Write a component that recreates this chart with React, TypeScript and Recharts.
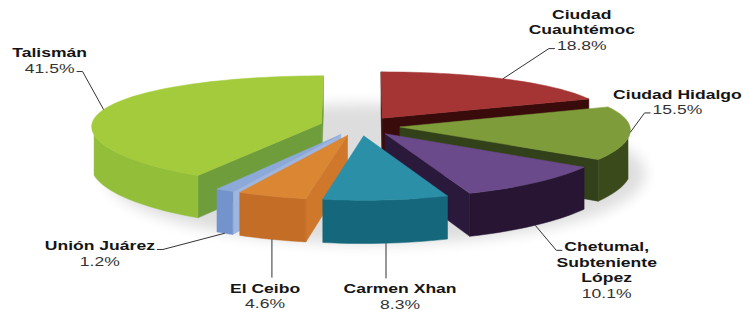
import React from 'react';
import { PieChart, Pie } from 'recharts';

// data, clockwise from 12 o'clock
const towns = [
  'Ciudad\nCuauhtémoc',
  'Ciudad Hidalgo',
  'Chetumal,\nSubteniente\nLópez',
  'Carmen Xhan',
  'El Ceibo',
  'Unión Juárez',
  'Talismán',
];
const shares = [18.8, 15.5, 10.1, 8.3, 4.6, 1.2, 41.5];

// colours per slice: top face, outer wall, cut faces
const topColors = ['#a53434', '#7f9c3b', '#6b4a8b', '#2a8fa7', '#db8633', '#8ca9d9', '#a3cb3b'];
const wallColors = ['#4a1010', '#3b4a1b', '#271533', '#15677b', '#c46d27', '#7393cc', '#92be3a'];
const cutColors = ['#3a0b0b', '#33411a', '#2b193b', '#1c7488', '#cf782c', '#9db5df', '#6f9d3c'];

// label placement tweaks (pixels), same order as towns
const labelNudge = [
  [38, 34],
  [-11, -44],
  [42, -8],
  [10, -2],
  [7, 5],
  [-103, -25],
  [8, -24],
];

const W = 750;
const H = 310;
const CX = 360;
const CY = 126;
const RADIUS = 230;
const EXPLODE = 40;
const DEPTH = 40;
const VIEWER = 6; // viewer distance in radii, for face visibility
const FONT = '"Liberation Sans", Arial, sans-serif';
const FONT_SIZE = 13;
const STRETCH = 1.35;
const LINE = 15.4;
const LABEL_RX = 330;
const LABEL_RY = 170;

const chartData = towns.map((name, i) => ({ name, value: shares[i] }));
// left half is swept the other way so slices stack back-to-front
const chartDataReversed = [...chartData].reverse();

type P2 = [number, number];
const rad = Math.PI / 180;

function project(cx: number, cy: number, R: number, u: number, v: number, h: number): P2 {
  const t = v / R;
  return [cx + u * (1 + 0.05 * t), cy + v * (0.24 + 0.03 * t) + h * DEPTH * (1 + 0.07 * t)];
}

const toPath = (pts: P2[]) =>
  'M' + pts.map((p) => `${p[0].toFixed(2)},${p[1].toFixed(2)}`).join('L') + 'Z';

let ctx: CanvasRenderingContext2D | null = null;
function textWidth(s: string, bold: boolean) {
  if (!ctx) ctx = document.createElement('canvas').getContext('2d');
  if (!ctx) return s.length * 8;
  ctx.font = `${bold ? 'bold ' : ''}${FONT_SIZE}px ${FONT}`;
  return ctx.measureText(s).width * STRETCH;
}

const makeSlice = (leftHalf: boolean) => (props: any) => {
  const { cx, cy, outerRadius: R, startAngle: a0, endAngle: a1, midAngle: am, value, name } = props;
  const index = towns.indexOf(name);
  const isLeft = Math.cos(am * rad) < 0;
  if (isLeft !== leftHalf) return <g key={`skip-${index}`} />;

  // ground plane points: apex, then rim from start to end
  const ox = EXPLODE * Math.cos(am * rad);
  const oy = -EXPLODE * Math.sin(am * rad);
  const ground: P2[] = [[ox, oy]];
  const steps = Math.max(2, Math.ceil(Math.abs(a0 - a1) / 2));
  for (let k = 0; k <= steps; k++) {
    const a = (a0 + ((a1 - a0) * k) / steps) * rad;
    ground.push([ox + R * Math.cos(a), oy - R * Math.sin(a)]);
  }
  const n = ground.length;
  const top = ground.map(([u, v]) => project(cx, cy, R, u, v, 0));
  const bot = ground.map(([u, v]) => project(cx, cy, R, u, v, 1));
  const gc = ground.reduce((s, p) => [s[0] + p[0] / n, s[1] + p[1] / n], [0, 0]);

  const visible = (i: number) => {
    const p = ground[i];
    const q = ground[(i + 1) % n];
    const mx = (p[0] + q[0]) / 2;
    const my = (p[1] + q[1]) / 2;
    let nx = q[1] - p[1];
    let ny = -(q[0] - p[0]);
    if (nx * (mx - gc[0]) + ny * (my - gc[1]) < 0) {
      nx = -nx;
      ny = -ny;
    }
    return nx * -mx + ny * (VIEWER * R - my) > 0;
  };
  const quad = (i: number) => {
    const j = (i + 1) % n;
    return toPath([top[i], top[j], bot[j], bot[i]]);
  };

  const faces: React.ReactNode[] = [];
  // cut faces
  [0, n - 1].forEach((i) => {
    if (visible(i))
      faces.push(<path key={`c${i}`} d={quad(i)} fill={cutColors[index]} stroke={cutColors[index]} strokeWidth={0.5} />);
  });
  // outer wall, in runs of visible segments
  let runStart = -1;
  for (let i = 1; i <= steps + 1; i++) {
    const vis = i <= steps && visible(i);
    if (vis && runStart < 0) runStart = i;
    if (!vis && runStart >= 0) {
      const pts = [...top.slice(runStart, i + 1), ...bot.slice(runStart, i + 1).reverse()];
      faces.push(<path key={`w${runStart}`} d={toPath(pts)} fill={wallColors[index]} stroke={wallColors[index]} strokeWidth={0.5} />);
      runStart = -1;
    }
  }

  // label
  const lines = towns[index].split('\n');
  const nameCount = lines.length;
  lines.push(`${Number(value).toFixed(1)}%`);
  const px = cx + LABEL_RX * Math.cos(am * rad) + labelNudge[index][0];
  const py = cy - LABEL_RY * Math.sin(am * rad) + labelNudge[index][1];
  const widths = lines.map((ln, k) => textWidth(ln, k < nameCount));

  const front = Math.sin(am * rad) < -0.3;
  const sg: P2 = [ox + R * Math.cos(am * rad), oy - R * Math.sin(am * rad)];
  const S = project(cx, cy, R, sg[0], sg[1], front ? 1 : 0);
  let leader: P2[];
  if (py > S[1] && Math.abs(S[0] - px) < widths[0] / 2) {
    leader = [S, [S[0], py - FONT_SIZE - 2]];
  } else {
    let best = 0;
    lines.forEach((_, k) => {
      if (Math.abs(py + k * LINE - S[1]) < Math.abs(py + best * LINE - S[1])) best = k;
    });
    const side = S[0] > px ? 1 : -1;
    const edge = px + (side * widths[best]) / 2;
    const yb = py + best * LINE - 1;
    leader = [S, [edge + side * 8, yb], [edge + side * 2, yb]];
  }

  const withShadow = leftHalf && Math.abs(a0 - 90) < 1e-6;

  return (
    <g key={`slice-${index}`}>
      {withShadow && (
        <g>
          <defs>
            <filter id="pieShadow" x="-20%" y="-50%" width="140%" height="200%">
              <feGaussianBlur stdDeviation="7" />
            </filter>
          </defs>
          <ellipse
            cx={cx + 15}
            cy={cy + DEPTH + 8}
            rx={R + 40}
            ry={(R + 40) * 0.26}
            fill="#000"
            opacity={0.13}
            filter="url(#pieShadow)"
          />
        </g>
      )}
      {faces}
      <path d={toPath(top)} fill={topColors[index]} stroke={topColors[index]} strokeWidth={0.5} />
      <polyline
        points={leader.map((p) => p.join(',')).join(' ')}
        fill="none"
        stroke="#333"
        strokeWidth={1}
      />
      <g transform={`translate(${px},0) scale(${STRETCH},1)`}>
        {lines.map((ln, k) => (
          <text
            key={k}
            x={0}
            y={py + k * LINE}
            textAnchor="middle"
            fontFamily={FONT}
            fontSize={FONT_SIZE}
            fontWeight={k < nameCount ? 'bold' : 'normal'}
            fill={k < nameCount ? '#151515' : '#333'}
          >
            {ln}
          </text>
        ))}
      </g>
    </g>
  );
};

export default function App() {
  return (
    <div style={{ position: 'absolute', left: 0, top: 0, width: W, height: H, background: '#fff' }}>
      <PieChart width={W} height={H} margin={{ top: 0, right: 0, bottom: 0, left: 0 }}>
        {/* left half: counter-clockwise from 12 o'clock */}
        <Pie
          data={chartDataReversed}
          dataKey="value"
          nameKey="name"
          cx={CX}
          cy={CY}
          outerRadius={RADIUS}
          startAngle={90}
          endAngle={450}
          fill="none"
          stroke="none"
          label={makeSlice(true)}
          labelLine={false}
          isAnimationActive={false}
        />
        {/* right half: clockwise from 12 o'clock */}
        <Pie
          data={chartData}
          dataKey="value"
          nameKey="name"
          cx={CX}
          cy={CY}
          outerRadius={RADIUS}
          startAngle={90}
          endAngle={-270}
          fill="none"
          stroke="none"
          label={makeSlice(false)}
          labelLine={false}
          isAnimationActive={false}
        />
      </PieChart>
    </div>
  );
}
